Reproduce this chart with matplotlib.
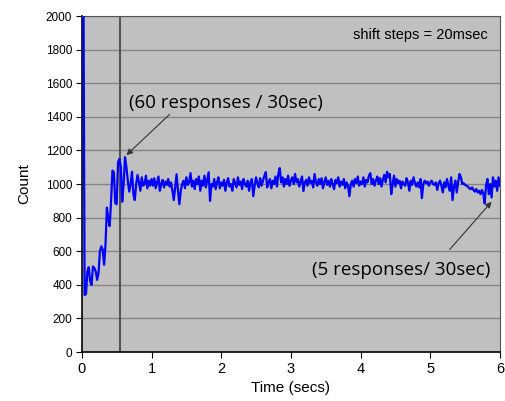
import numpy as np
import matplotlib
matplotlib.use("Agg")
import matplotlib.pyplot as plt

# counts sampled every 20 msec, starting at t = 0.02 s
step = 0.02
counts_start = [
    2600, 340, 345, 480, 505, 420, 400, 510, 500, 480,   # 0.02 - 0.20
    430, 470, 600, 630, 610, 520, 640, 860, 790, 750,    # 0.22 - 0.40
    900, 1080, 1070, 886, 880, 1130, 1150, 1100, 895, 1000,  # 0.42 - 0.60
    1160, 1100, 1020, 955, 1000, 1073, 940, 905, 1000, 1054,  # 0.62 - 0.80
]
counts_steady = [
    1010, 960, 1040, 990, 1000, 1050, 975, 1020, 990, 1030,   # 0.82 - 1.00
    990, 1035, 975, 1010, 1045, 960, 1000, 1025, 980, 1015,   # 1.02 - 1.20
    995, 1030, 985, 1010, 960, 905, 980, 1058, 960, 880,      # 1.22 - 1.40
    960, 1000, 1020, 975, 1040, 995, 1010, 1065, 985, 1020,   # 1.42 - 1.60
    970, 1030, 1000, 1045, 960, 1020, 990, 1050, 980, 1025,   # 1.62 - 1.80
    1070, 900, 1000, 985, 1030, 970, 1010, 1040, 975, 1010,   # 1.82 - 2.00
    990, 1025, 960, 1010, 1035, 985, 1000, 960, 1030, 1005,   # 2.02 - 2.20
    980, 1040, 995, 1015, 970, 1030, 1000, 985, 1020, 960,    # 2.22 - 2.40
    1010, 1030, 928, 990, 1040, 1005, 980, 1035, 990, 1020,   # 2.42 - 2.60
    1050, 1071, 980, 1010, 1030, 975, 1020, 1000, 1045, 985,  # 2.62 - 2.80
    1060, 1095, 1010, 1040, 985, 1030, 1000, 1050, 990, 1020, # 2.82 - 3.00
    1040, 1000, 1060, 1010, 1030, 985, 1015, 1045, 958, 1010, # 3.02 - 3.20
    1025, 990, 1040, 1005, 1020, 980, 1060, 1010, 990, 1030,  # 3.22 - 3.40
    1000, 1035, 975, 1010, 1040, 995, 1020, 985, 1030, 1000,  # 3.42 - 3.60
    970, 1025, 1005, 1040, 985, 1015, 995, 1030, 975, 1010,   # 3.62 - 3.80
    990, 928, 1000, 1020, 985, 1030, 1005, 1045, 990, 1015,   # 3.82 - 4.00
    1000, 1040, 985, 1025, 1010, 1050, 1065, 1000, 1030, 990, # 4.02 - 4.20
    1020, 1045, 1000, 1035, 985, 1025, 1055, 1010, 1073, 1040,  # 4.22 - 4.40
    1060, 940, 1000, 1050, 985, 1030, 1005, 1020, 975, 1015,  # 4.42 - 4.60
    1000, 990, 1035, 1010, 960, 1020, 995, 1040, 1005, 985,   # 4.62 - 4.80
    1010, 980, 1030, 916, 1000, 1020, 1005, 1015, 990, 1010,  # 4.82 - 5.00
    1020, 1000, 995, 1010, 965, 1005, 1020, 990, 950, 1010,   # 5.02 - 5.20
    980, 1030, 990, 960, 1040, 905, 985, 1020, 950, 1010,     # 5.22 - 5.40
    1060, 1040, 1000, 1005, 995, 990, 985, 975, 970, 980,     # 5.42 - 5.60
    965, 955, 970, 950, 960, 940, 965, 945, 885, 990,         # 5.62 - 5.80
    1030, 940, 1000, 920, 1040, 985, 1020, 960, 1040, 990,    # 5.82 - 6.00
]
counts = counts_start + counts_steady
times = step * np.arange(1, len(counts) + 1)

marker_time = 0.555
x_ticks = [0, 1, 2, 3, 4, 5, 6]
y_ticks = list(range(0, 2001, 200))

plt.rcParams["font.family"] = ["Liberation Sans", "DejaVu Sans"]

fig = plt.figure(figsize=(5.05, 4.01), dpi=100)
ax = fig.add_axes([0.162, 0.122, 0.828, 0.838])
ax.set_facecolor("#C0C0C0")

for y in y_ticks[1:]:
    ax.axhline(y, color="#858585", lw=1, zorder=1)
ax.axvline(marker_time, color="#555555", lw=1.5, zorder=2)

ax.plot(times, counts, color="#0000FF", lw=1.6, zorder=3)

ax.set_xlim(0, 6)
ax.set_ylim(0, 2000)
ax.set_xticks(x_ticks)
ax.set_yticks(y_ticks)
ax.tick_params(axis="x", labelsize=10.5, length=4, pad=3)
ax.tick_params(axis="y", labelsize=8.5, length=4, pad=3)
ax.set_xlabel("Time (secs)", fontsize=11, labelpad=4)
ax.set_ylabel("Count", fontsize=11, labelpad=10)

for side in ["top", "right"]:
    ax.spines[side].set_color("#555555")
for side in ["left", "bottom"]:
    ax.spines[side].set_color("black")
    ax.spines[side].set_linewidth(1.2)

ax.text(5.83, 1890, "shift steps = 20msec", ha="right", va="center", fontsize=10.5)

hand = dict(fontsize=13.5, family=["Open Sans", "DejaVu Sans"])
arrow = dict(arrowstyle="-|>", color="#333333", lw=0.8, shrinkA=0, shrinkB=0,
             mutation_scale=9)

# first annotation
ax.text(2.07, 1480, "(60 responses / 30sec)", ha="center", va="center", **hand)
ax.annotate("", xy=(0.64, 1172), xytext=(1.26, 1415), arrowprops=arrow)

# second annotation
ax.text(4.59, 488, "(5 responses/ 30sec)", ha="center", va="center", **hand)
ax.annotate("", xy=(5.88, 895), xytext=(5.28, 611), arrowprops=arrow)

fig.savefig("out.png", dpi=100)
